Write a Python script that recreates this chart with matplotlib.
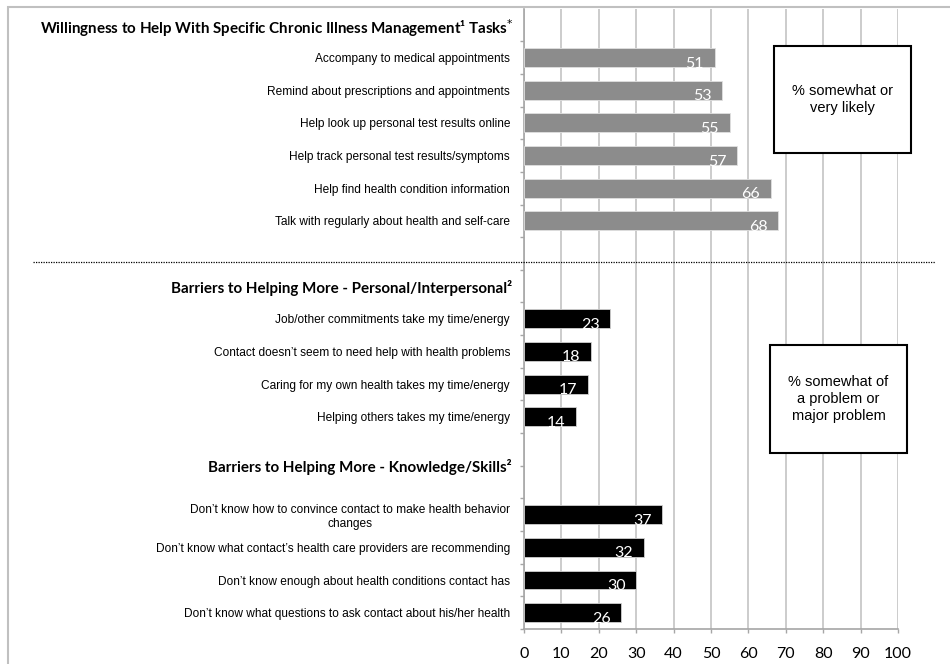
import matplotlib
matplotlib.use('Agg')
import matplotlib.pyplot as plt
from matplotlib.patches import Rectangle
from matplotlib.lines import Line2D
from matplotlib.transforms import blended_transform_factory
import numpy as np

# ---------------- data ----------------
header_willing = 'Willingness to Help With Specific Chronic Illness Management\u00b9 Tasks$^{*}$'
header_personal = 'Barriers to Helping More - Personal/Interpersonal\u00b2'
header_knowledge = 'Barriers to Helping More - Knowledge/Skills\u00b2'

willing_labels = [
    'Accompany to medical appointments',
    'Remind about prescriptions and appointments',
    'Help look up personal test results online',
    'Help track personal test results/symptoms',
    'Help find health condition information',
    'Talk with regularly about health and self-care',
]
willing_values = [51, 53, 55, 57, 66, 68]

personal_labels = [
    'Job/other commitments take my time/energy',
    'Contact doesn\u2019t seem to need help with health problems',
    'Caring for my own health takes my time/energy',
    'Helping others takes my time/energy',
]
personal_values = [23, 18, 17, 14]

knowledge_labels = [
    'Don\u2019t know how to convince contact to make health behavior\nchanges',
    'Don\u2019t know what contact\u2019s health care providers are recommending',
    'Don\u2019t know enough about health conditions contact has',
    'Don\u2019t know what questions to ask contact about his/her health',
]
knowledge_values = [37, 32, 30, 26]

x_ticks = list(range(0, 101, 10))

box_willing = '% somewhat or\nvery likely'
box_barrier = '% somewhat of\na problem or\nmajor problem'

# ---------------- layout ----------------
W, H = 950, 664
fig = plt.figure(figsize=(W / 100, H / 100), dpi=100)
fig.patch.set_facecolor('white')


def fx(px):
    return px / W


def fy(py):
    return 1 - py / H


ax = fig.add_axes([fx(524), fy(629), fx(898) - fx(524), fy(8.6) - fy(629)])

pos_w = np.arange(1, 1 + len(willing_values))
pos_p = np.arange(9, 9 + len(personal_values))
pos_k = np.arange(15, 15 + len(knowledge_values))

bh = 0.58
ax.barh(pos_w, willing_values, height=bh, color='#8c8c8c', edgecolor='#e0e0e0', linewidth=0.6, zorder=3)
ax.barh(pos_p, personal_values, height=bh, color='#000000', edgecolor='#d0d0d0', linewidth=0.6, zorder=3)
ax.barh(pos_k, knowledge_values, height=bh, color='#000000', edgecolor='#d0d0d0', linewidth=0.6, zorder=3)

# value labels
for pos, vals in ((pos_w, willing_values), (pos_p, personal_values), (pos_k, knowledge_values)):
    for y, v in zip(pos, vals):
        ax.annotate(str(v), xy=(v, y), xytext=(-14.4, -4.3), textcoords='offset points',
                    ha='center', va='center', color='white', fontsize=11.5,
                    family=['Lato', 'DejaVu Sans'], zorder=4, annotation_clip=False)

ax.set_xlim(0, 100)
ax.set_ylim(18.5, -0.5)
ax.set_xticks(x_ticks)
ax.set_xticklabels([str(t) for t in x_ticks], fontsize=11.5, family=['Lato', 'DejaVu Sans'])
ax.tick_params(axis='x', length=3, width=1, color='#a6a6a6', pad=10)
ax.grid(axis='x', color='#c4c4c4', linewidth=1.2, zorder=0)
ax.set_axisbelow(True)

for s in ('top', 'right'):
    ax.spines[s].set_visible(False)
for s in ('left', 'bottom'):
    ax.spines[s].set_color('#a6a6a6')
    ax.spines[s].set_linewidth(1.2)

all_pos = list(pos_w) + list(pos_p) + list(pos_k)
all_labels = willing_labels + personal_labels + knowledge_labels
ax.set_yticks(all_pos)
ax.set_yticklabels(all_labels)
ax.set_yticks(np.arange(0.5, 18.6, 1.0), minor=True)
ax.tick_params(axis='y', which='major', length=0, pad=10)
ax.tick_params(axis='y', which='minor', length=3, width=1, color='#a6a6a6')

labs = ax.get_yticklabels()
for i, lab in enumerate(labs):
    lab.set_family(['Liberation Sans', 'DejaVu Sans'])
    lab.set_fontsize(8.6)
    lab.set_multialignment('center')
    lab.set_linespacing(1.25)

# section headers
tr = blended_transform_factory(fig.transFigure, ax.transData)
hdr_kw = dict(ha='right', va='center', fontsize=10.9, fontweight='bold',
              family=['Lato', 'DejaVu Sans'], transform=tr)
fig.text(fx(514), 0.1, header_willing, **hdr_kw)
fig.text(fx(512), 8.05, header_personal, **hdr_kw)
fig.text(fx(512), 13.55, header_knowledge, **hdr_kw)

# dotted separator
fig.add_artist(Line2D([fx(33), fx(935)], [fy(262), fy(262)], transform=fig.transFigure,
                      color='black', linewidth=0.9, linestyle=(0, (1, 1)), zorder=2))

# annotation boxes
for (x0, y0, x1, y1, txt) in ((774, 46, 911, 153, box_willing), (770, 345, 907, 453, box_barrier)):
    fig.add_artist(Rectangle((fx(x0), fy(y1)), fx(x1) - fx(x0), fy(y0) - fy(y1),
                             transform=fig.transFigure, facecolor='white',
                             edgecolor='black', linewidth=1.5, zorder=5))
    fig.text((fx(x0) + fx(x1)) / 2, (fy(y0) + fy(y1)) / 2, txt, ha='center', va='center',
             fontsize=10.5, family=['Liberation Sans', 'DejaVu Sans'],
             linespacing=1.25, zorder=6)

# outer frame
fig.add_artist(Rectangle((fx(8), fy(700)), fx(1000) - fx(8), fy(7) - fy(700),
                         transform=fig.transFigure, fill=False,
                         edgecolor='#c0c0c0', linewidth=1.5, zorder=1))

fig.savefig('out.png', dpi=100)
